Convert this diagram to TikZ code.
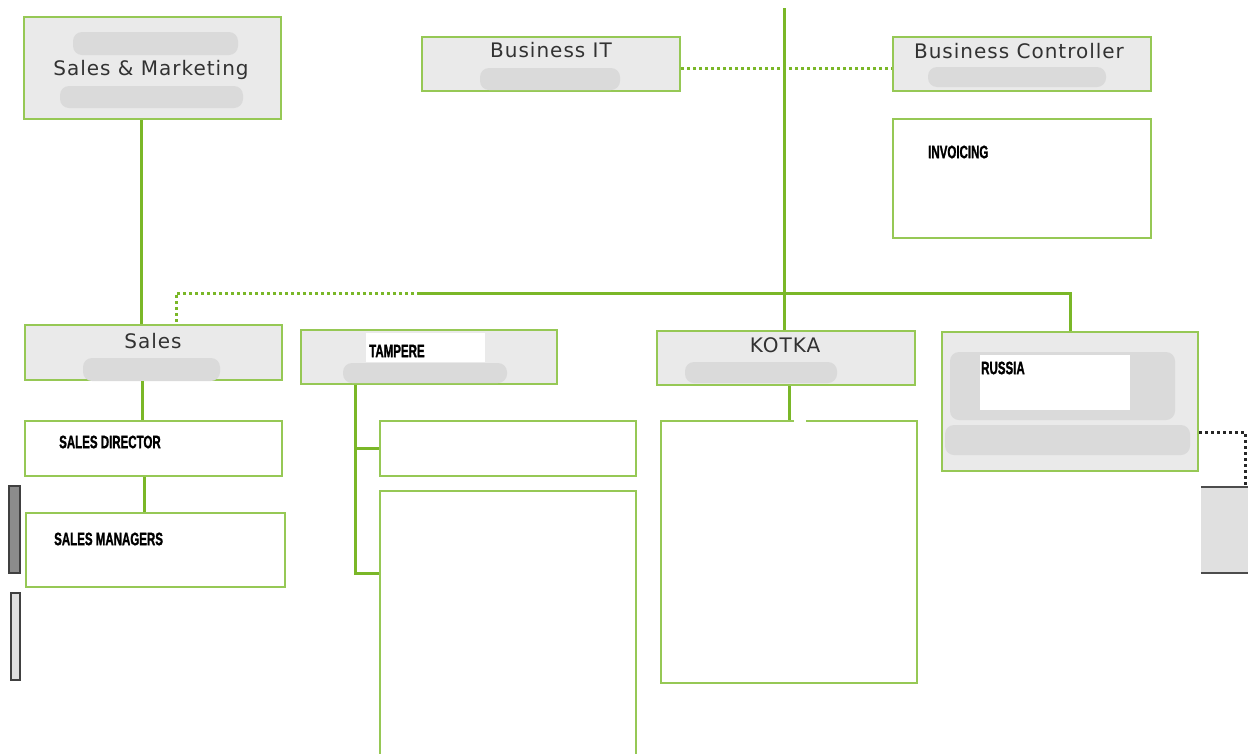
\documentclass[tikz,border=0pt]{standalone}
\usepackage{fontspec}
\setmainfont{DejaVu Sans}[LetterSpace=5]
\newfontfamily\condfont[FakeStretch=0.64,FakeBold=1.2]{Liberation Sans}
\usetikzlibrary{calc}
\definecolor{boxgreen}{RGB}{150,200,85}
\definecolor{linegreen}{RGB}{122,183,40}
\definecolor{boxgray}{RGB}{234,234,234}
\definecolor{blobgray}{RGB}{218,218,218}
\definecolor{titlegray}{RGB}{50,50,50}
\begin{document}
\begin{tikzpicture}[x=1pt,y=-1pt,
 box/.style={draw=boxgreen, line width=2pt, fill=boxgray, inner sep=0pt},
 wbox/.style={draw=boxgreen, line width=2pt, fill=white, inner sep=0pt},
 conn/.style={draw=linegreen, line width=3pt},
 dotconn/.style={draw=linegreen, line width=3pt, dash pattern=on 3pt off 3pt},
 blackdot/.style={draw=black!85, line width=3pt, dash pattern=on 3pt off 3pt},
 blob/.style={fill=blobgray, rounded corners=9pt},
 title/.style={font=\fontsize{20}{23}\selectfont, text=titlegray, inner sep=0pt},
 lab/.style={font=\condfont\bfseries\fontsize{18}{20}\selectfont, anchor=west, inner sep=0pt}]
\useasboundingbox (0,0) rectangle (1248,753);
\fill[white] (0,0) rectangle (1248,753);

% ---- boxes ----
\node[box, minimum width=257pt, minimum height=102pt] (sm) at (152.5,68) {};
\node[box, minimum width=258pt, minimum height=54pt] (bit) at (551,64) {};
\node[box, minimum width=258pt, minimum height=54pt] (bc) at (1022,64) {};
\node[wbox, minimum width=258pt, minimum height=119pt] (inv) at (1022,178.5) {};
\node[box, minimum width=257pt, minimum height=55pt] (sales) at (153.5,352.5) {};
\node[box, minimum width=256pt, minimum height=54pt] (tam) at (429,357) {};
\node[box, minimum width=258pt, minimum height=54pt] (kotka) at (786,358) {};
\node[box, minimum width=256pt, minimum height=139pt] (russia) at (1070,401.5) {};
\node[wbox, minimum width=257pt, minimum height=55pt] (sd) at (153.5,448.5) {};
\node[wbox, minimum width=259pt, minimum height=74pt] (smg) at (155.5,550) {};
\node[wbox, minimum width=256pt, minimum height=55pt] (t1) at (508,448.5) {};
\node[wbox, minimum width=256pt, minimum height=279pt] (t2) at (508,630.5) {};
\node[wbox, minimum width=256pt, minimum height=262pt] (kb) at (789,552) {};
\fill[white] (794,418) rectangle (806,424);

% ---- blurred placeholders ----
\fill[blob] (73,32) rectangle (238,55);
\fill[blob] (60,86) rectangle (243,108);
\fill[blob] (480,68) rectangle (620,90);
\fill[blob] (928,67) rectangle (1106,87);
\fill[blob] (83,358) rectangle (220,381);
\fill[blob] (343,363) rectangle (507,383);
\fill[blob] (685,362) rectangle (837,383);
\fill[blob] (950,352) rectangle (1175,420);
\fill[blob] (945,425) rectangle (1190,455);
\fill[white] (366,333) rectangle (485,362);
\fill[white] (980,355) rectangle (1130,410);

% ---- titles ----
\node[title] (tsm) at (151,70) {Sales \& Marketing};
\node[title] (tbit) at (551,50) {Business IT};
\node[title] (tbc) at (1019,51) {Business Controller};
\node[title] (tsales) at (153,341) {Sales};
\node[title] (tkotka) at (785,345) {KOTKA};
\node[lab] (linv) at (928,152) {INVOICING};
\node[lab] (ltam) at (369,351) {TAMPERE};
\node[lab] (lrus) at (981,368) {RUSSIA};
\node[lab] (lsd) at (59,442) {SALES DIRECTOR};
\node[lab] (lsmg) at (54,539) {SALES MANAGERS};

% ---- side fragments ----
\node[draw=black!75, line width=1.5pt, fill=black!45, minimum width=11pt, minimum height=87pt, inner sep=0pt] (lf1) at (14.5,529.5) {};
\node[draw=black!75, line width=1.5pt, fill=black!12, minimum width=9pt, minimum height=87pt, inner sep=0pt] (lf2) at (15.5,636.5) {};
\node[fill=black!12, minimum width=70pt, minimum height=86pt, inner sep=0pt] (rg) at (1236,530) {};
\draw[black!70, line width=1.5pt] (rg.north west) -- (rg.north east);
\draw[black!70, line width=1.5pt] (rg.south west) -- (rg.south east);

% ---- connectors ----
\coordinate (topend) at (784,8);
\coordinate (hl) at (420,293);
\draw[conn] (topend) -- (topend |- kotka.north);
\draw[conn] (hl) -- (hl -| russia.north) -- (russia.north);
\draw[dotconn] (hl) -| ([xshift=22.5pt]sales.north);
\draw[dotconn] ([yshift=-4pt]bit.east) -- ([yshift=-4pt]bc.west);
\draw[conn] ([xshift=-11.5pt]sm.south) -- ([xshift=-12.5pt]sales.north);
\draw[conn] ([xshift=-11.5pt]sales.south) -- ([xshift=-11.5pt]sd.north);
\draw[conn] ([xshift=-9.5pt]sd.south) -- ([xshift=-11.5pt]smg.north);
\coordinate (tamtrunk) at ([xshift=-74pt]tam.south);
\draw[conn] (tamtrunk) |- ([yshift=57.5pt]t2.west);
\draw[conn] (tamtrunk |- t1.west) -- (t1.west);
\draw[conn] ([xshift=3pt]kotka.south) -- (kb.north);
\draw[blackdot] ([yshift=-30.5pt]russia.east) -| ([xshift=9pt]rg.north);
\end{tikzpicture}
\end{document}
